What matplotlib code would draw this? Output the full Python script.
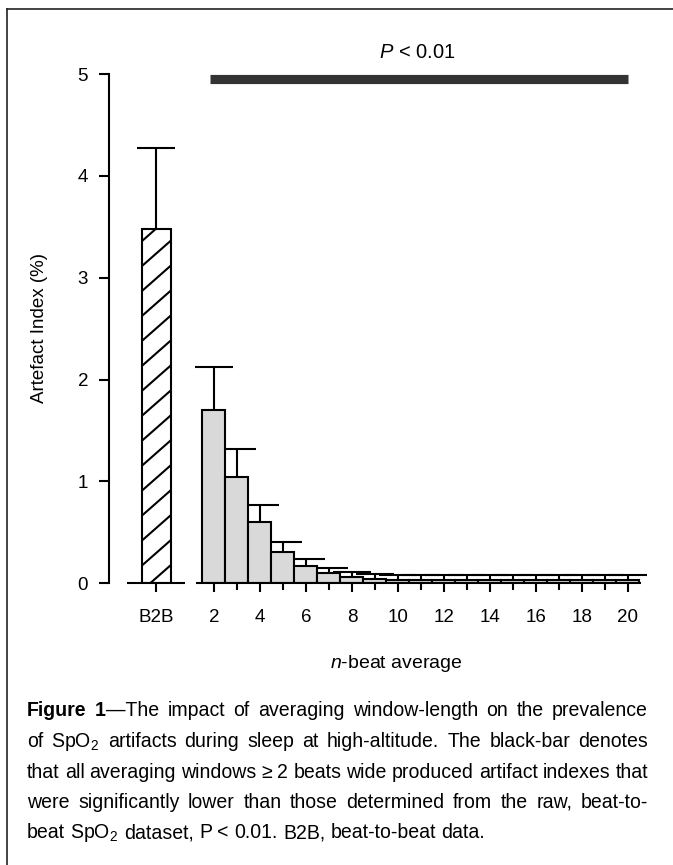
import numpy as np
import matplotlib
matplotlib.use("Agg")
import matplotlib.pyplot as plt
from matplotlib.lines import Line2D
from matplotlib.ticker import FixedLocator

plt.rcParams["font.family"] = ["Liberation Sans", "DejaVu Sans"]
plt.rcParams["mathtext.fontset"] = "custom"
plt.rcParams["mathtext.rm"] = "Liberation Sans"
plt.rcParams["mathtext.it"] = "Liberation Sans:italic"
plt.rcParams["mathtext.bf"] = "Liberation Sans:bold"

# data
b2b_mean = 3.48
b2b_err = 0.79
n_beats = np.arange(2, 21)
n_mean = [1.70, 1.04, 0.60, 0.31, 0.17, 0.10, 0.065, 0.045,
          0.035, 0.035, 0.035, 0.035, 0.035, 0.035, 0.035, 0.035, 0.035, 0.035, 0.035]
n_err = [0.42, 0.28, 0.17, 0.10, 0.07, 0.05, 0.045, 0.045,
         0.045, 0.045, 0.045, 0.045, 0.045, 0.045, 0.045, 0.045, 0.045, 0.045, 0.045]
b2b_pos = -0.5
sig_start, sig_end = 1.83, 20.0
sig_y = 4.95

W, H = 673, 865
fig = plt.figure(figsize=(W / 100, H / 100), dpi=100)
ax = fig.add_axes([109.3 / W, (H - 583.3) / H, (650 - 109.3) / W, (583.3 - 12.9) / H])
ax.set_xlim(-2.55, 20.96)
ax.set_ylim(0, 5.6)

lw = 1.5
# B2B bar with sparse diagonal hatch
b2b = ax.bar([b2b_pos], [b2b_mean], width=1.26, color="white", edgecolor="black",
             linewidth=lw, zorder=3)[0]
eb = ax.errorbar([b2b_pos], [b2b_mean], yerr=[[0], [b2b_err]], fmt="none", ecolor="black",
                 elinewidth=lw, capsize=13.5, capthick=lw, zorder=2)
eb[1][0].set_visible(False)
x0 = b2b.get_x()
x1 = x0 + b2b.get_width()
rise = (x1 - x0) * 23.0 / 101.86 * 0.88
for k in np.arange(0.18 - rise - 0.245 * 2, b2b_mean + 0.3, 0.245):
    ln, = ax.plot([x0, x1], [k, k + rise], color="black", lw=lw, zorder=3.2,
                  solid_capstyle="butt")
    ln.set_clip_path(b2b)

# n-beat bars
eb = ax.errorbar(n_beats, n_mean, yerr=[np.zeros(len(n_err)), n_err], fmt="none",
                 ecolor="black", elinewidth=lw, capsize=13.5, capthick=lw, zorder=2)
eb[1][0].set_visible(False)
ax.bar(n_beats, n_mean, width=1.0, color="#d9d9d9", edgecolor="black",
       linewidth=lw, zorder=3)

# broken x axis
ax.hlines(0, b2b_pos - 1.30, b2b_pos + 1.24, color="black", lw=lw, clip_on=False, zorder=4)
ax.hlines(0, n_beats[0] - 0.79, n_beats[-1] + 0.55, color="black", lw=lw, clip_on=False, zorder=4)

# significance bar
ax.hlines(sig_y, sig_start, sig_end, color="#333333", lw=6.6)
ax.text((sig_start + sig_end) / 2 - 0.08, 5.21, "$P$ < 0.01", ha="center", va="center",
        fontsize=14.5)

for s in ["top", "right", "bottom"]:
    ax.spines[s].set_visible(False)
ax.spines["left"].set_linewidth(lw)
ax.spines["left"].set_bounds(0, 5)

ax.set_yticks(range(6))
ax.set_yticklabels([str(v) for v in range(6)])
ax.tick_params(axis="y", length=7.2, width=lw, pad=8, labelsize=13.5)

ax.set_xticks([b2b_pos] + list(range(2, 21, 2)))
ax.set_xticklabels(["B2B"] + [str(v) for v in range(2, 21, 2)])
ax.xaxis.set_minor_locator(FixedLocator(list(range(3, 20, 2))))
ax.tick_params(axis="x", which="major", length=6.8, width=lw, pad=12, labelsize=13.5)
ax.tick_params(axis="x", which="minor", length=5.2, width=lw)

fig.text(40 / W, 1 - 328 / H, "Artefact Index (%)", rotation=90, ha="center",
         va="center", fontsize=13.5)
fig.text(396 / W, 1 - 663 / H, "$n$-beat average", ha="center", va="center", fontsize=14)

# frame lines (left and top)
fig.add_artist(Line2D([7 / W, 7 / W], [0, 1 - 9 / H], color="#222222", lw=1.2))
fig.add_artist(Line2D([7 / W, 1], [1 - 9 / H, 1 - 9 / H], color="#222222", lw=1.2))

# caption, justified
caption = [
    [[("Figure", "bold")], [("1", "bold"), ("\u2014The", "normal")], "impact", "of",
     "averaging", "window-length", "on", "the", "prevalence"],
    ["of", "SpO$_2$", "artifacts", "during", "sleep", "at", "high-altitude.", "The",
     "black-bar", "denotes"],
    ["that", "all", "averaging", "windows", "\u2265", "2", "beats", "wide", "produced",
     "artifact", "indexes", "that"],
    ["were", "significantly", "lower", "than", "those", "determined", "from", "the",
     "raw,", "beat-to-"],
    ["beat", "SpO$_2$", "dataset,", "P", "<", "0.01.", "B2B,", "beat-to-beat", "data."],
]
cap_left, cap_right = 27.0, 648.0
cap_y0, cap_dy = 710.0, 30.5
renderer = fig.canvas.get_renderer()


def measure(s, size, weight="normal"):
    t = fig.text(0, 0, s, fontsize=size, fontweight=weight)
    w = t.get_window_extent(renderer).width
    t.remove()
    return w


def line_width(words, size):
    total = 0
    for w in words:
        segs = w if isinstance(w, list) else [(w, "normal")]
        total += sum(measure(s, size, wt) for s, wt in segs)
    space = measure("a a", size) - measure("aa", size)
    return total + space * (len(words) - 1)


size0 = 13.0
widest = max(line_width(w, size0) for w in caption[:-1])
cap_size = size0 * (cap_right - cap_left) / widest

space = measure("a a", cap_size) - measure("aa", cap_size)
for i, words in enumerate(caption):
    y = 1 - (cap_y0 + i * cap_dy) / H
    items = []
    for w in words:
        segs = w if isinstance(w, list) else [(w, "normal")]
        ts = [fig.text(0, y, s, fontsize=cap_size, fontweight=wt, va="baseline", ha="left")
              for s, wt in segs]
        widths = [t.get_window_extent(renderer).width for t in ts]
        items.append((ts, widths))
    total = sum(sum(wd) for _, wd in items)
    if i < len(caption) - 1:
        gap = (cap_right - cap_left - total) / (len(items) - 1)
    else:
        gap = space
    x = cap_left
    for ts, widths in items:
        for t, wd in zip(ts, widths):
            t.set_x(x / W)
            t.set_y(y - 6.5 / H)
            x += wd
        x += gap

fig.savefig("out.png", dpi=100)
